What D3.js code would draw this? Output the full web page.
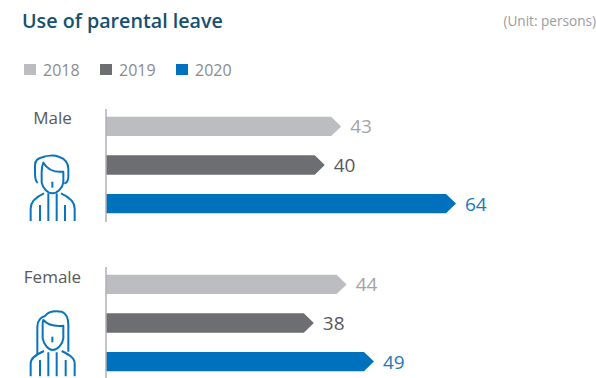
<!DOCTYPE html>
<html>
<head>
<meta charset="utf-8">
<script src="https://cdn.jsdelivr.net/npm/d3@7/dist/d3.min.js"></script>
<style>
html,body{margin:0;padding:0;background:#fff;}
svg{display:block;font-family:"Open Sans","Noto Sans",sans-serif;}
</style>
</head>
<body>
<svg id="chart" width="596" height="378"></svg>
<script>
// Parental leave taken by gender, per year
const years = ["2018", "2019", "2020"];
const genders = ["Male", "Female"];
const maleValues = [43, 40, 64];
const femaleValues = [44, 38, 49];
const barColors = ["#bcbdc0", "#6d6e71", "#0071bc"];
const labelColors = ["#a3a4a7", "#58595b", "#1a78bd"];
const valuesByGender = [maleValues, femaleValues];

const svg = d3.select("#chart");

svg.append("text").attr("x", 22).attr("y", 28)
  .attr("font-size", 19.7).attr("font-weight", 600).attr("fill", "#17506e")
  .text("Use of parental leave");
svg.append("text").attr("x", 596).attr("y", 26).attr("text-anchor", "end")
  .attr("font-size", 13.6).attr("fill", "#9a9b9e")
  .text("(Unit: persons)");

// Legend
const legendX = d3.scalePoint().domain(years).range([24, 176]);
const legend = svg.selectAll("g.legend").data(years).join("g")
  .attr("class", "legend")
  .attr("transform", d => `translate(${legendX(d)},64)`);
legend.append("rect").attr("width", 12).attr("height", 11)
  .attr("fill", (d, i) => barColors[i]);
legend.append("text").attr("x", 19).attr("y", 12)
  .attr("font-size", 16).attr("fill", "#8a8b8e").text(d => d);

// Shared value scale, bars grow from the baseline at x = 106
const x = d3.scaleLinear().domain([0, 64]).range([106, 456]);
const groupTop = d3.scalePoint().domain(genders).range([109, 267]);
const barY = d3.scaleBand().domain(years).range([0, 112]).paddingInner(0.5).paddingOuter(0.2);
const tip = 10;

// Outline icons, in a 3x drawing grid
const icons = {
  Male: {
    dy: 95,
    d: [
      "M113 264C105 258 105 245 105 235L105 210C105 195 118 188 130 186C140 181 165 180 178 186C195 190 205 205 205 222L205 245C205 255 202 262 193 266",
      "M130 203C126 212 125 220 125 232L125 262C128 278 142 295 157 295C172 295 188 278 190 262L190 230C170 232 145 228 130 203Z",
      "M157 260L157 278",
      "M92 378L92 340C92 318 110 305 132 295",
      "M224 378L224 340C224 318 205 305 183 295",
      "M120 330L120 378M195 330L195 378M145 295L145 378M170 295L170 378"
    ]
  },
  Female: {
    dy: 255,
    d: [
      "M112 298L112 215C112 195 125 185 135 183C145 168 170 168 185 170C198 175 205 190 205 210L205 290",
      "M130 195C127 202 128 208 128 218L128 250C131 268 145 285 158 285C172 285 188 268 190 250L190 212C170 214 145 212 130 195Z",
      "M157 245L157 262",
      "M92 364L92 325C92 308 110 298 132 288",
      "M224 364L224 325C224 308 205 298 185 288",
      "M120 315L120 364M197 315L197 364M145 292L145 364M170 292L170 364"
    ]
  }
};

genders.forEach((gender, gi) => {
  const top = groupTop(gender);
  const values = valuesByGender[gi];
  const g = svg.append("g").attr("class", "group").attr("transform", `translate(0,${top})`);

  svg.append("text")
    .attr("x", 52.5).attr("y", gender === "Male" ? 124 : 283)
    .attr("text-anchor", "middle").attr("font-size", 17).attr("fill", "#58595b")
    .text(gender);

  const barH = barY.bandwidth();
  g.selectAll("path.bar").data(values).join("path")
    .attr("class", "bar")
    .attr("fill", (d, i) => barColors[i])
    .attr("d", (d, i) => {
      const y0 = barY(years[i]);
      const p = d3.path();
      p.moveTo(x(0), y0);
      p.lineTo(x(d) - tip, y0);
      p.lineTo(x(d), y0 + barH / 2);
      p.lineTo(x(d) - tip, y0 + barH);
      p.lineTo(x(0), y0 + barH);
      p.closePath();
      return p.toString();
    });

  g.selectAll("text.value").data(values).join("text")
    .attr("class", "value")
    .attr("x", d => x(d) + 9)
    .attr("y", (d, i) => barY(years[i]) + barH / 2 + 7)
    .attr("font-size", 19)
    .attr("fill", (d, i) => labelColors[i])
    .text(d => d);

  g.append("line").attr("x1", 106).attr("x2", 106).attr("y1", 0).attr("y2", 113)
    .attr("stroke", "#b0b1b4").attr("stroke-width", 1.5);

  const icon = icons[gender];
  svg.append("g").attr("transform", `translate(0,${icon.dy}) scale(${1 / 3})`)
    .selectAll("path").data(icon.d).join("path")
    .attr("d", d => d).attr("fill", "none")
    .attr("stroke", "#0874bd").attr("stroke-width", 6).attr("stroke-linejoin", "round");
});
</script>
</body>
</html>
